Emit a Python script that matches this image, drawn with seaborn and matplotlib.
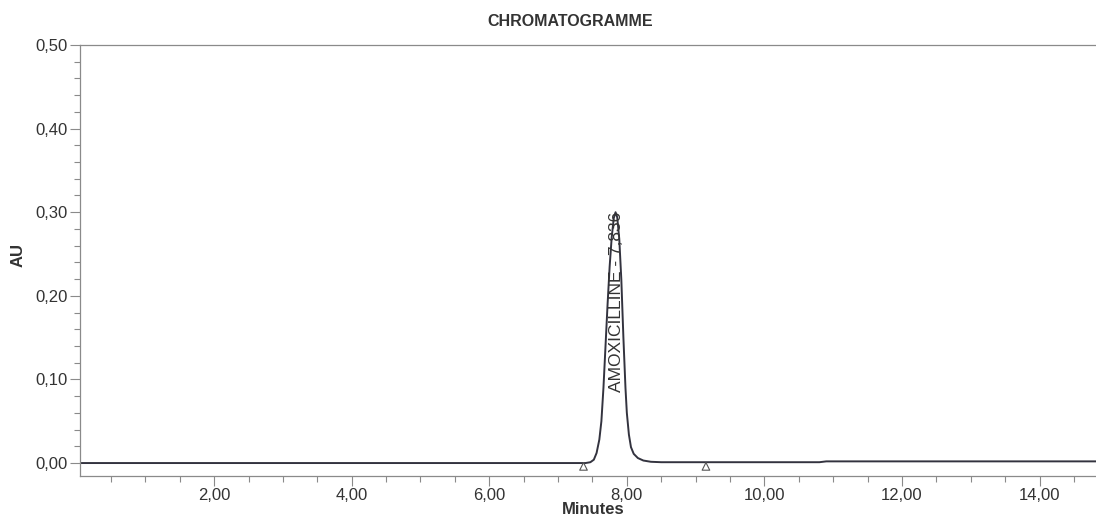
import numpy as np
import pandas as pd
import matplotlib
matplotlib.use("Agg")
import matplotlib.pyplot as plt
from matplotlib.ticker import MultipleLocator, FixedLocator
import seaborn as sns

# trace (minutes, AU)
minutes = [0.05, 2.00, 4.00, 6.00, 7.00, 7.40, 7.47, 7.52, 7.56, 7.60, 7.63, 7.66,
           7.69, 7.72, 7.75, 7.78, 7.81, 7.836, 7.86, 7.89, 7.92, 7.95, 7.98,
           8.00, 8.03, 8.06, 8.10, 8.16, 8.24, 8.35, 8.50, 9.50, 10.80, 10.90,
           12.00, 14.00, 15.00]
au = [0.000, 0.000, 0.000, 0.000, 0.000, 0.000, 0.001, 0.004, 0.012, 0.028, 0.050, 0.090,
      0.140, 0.190, 0.235, 0.270, 0.293, 0.300, 0.294, 0.268, 0.219, 0.150, 0.090,
      0.060, 0.034, 0.019, 0.011, 0.006, 0.003, 0.0015, 0.001, 0.001, 0.001, 0.002,
      0.002, 0.002, 0.002]

# integration markers (peak start / end)
marker_t = [7.37, 9.15]
marker_au = [-0.004, -0.004]

peak_name = "AMOXICILLINE"
peak_rt = 7.836

xticks = [2, 4, 6, 8, 10, 12, 14]
xticklabels = ["2,00", "4,00", "6,00", "8,00", "10,00", "12,00", "14,00"]
yticks = [0.0, 0.1, 0.2, 0.3, 0.4, 0.5]
yticklabels = ["0,00", "0,10", "0,20", "0,30", "0,40", "0,50"]

df = pd.DataFrame({"Minutes": minutes, "AU": au})
marks = pd.DataFrame({"Minutes": marker_t, "AU": marker_au})

sns.set_style("ticks")
plt.rcParams['font.family'] = ['Liberation Sans', 'DejaVu Sans']

fig = plt.figure(figsize=(10.96, 5.27), dpi=100)
ax = fig.add_axes([80 / 1096, 51 / 527, 1 - 80 / 1096 + 0.01, 431 / 527])

line_c = "#33333f"
spine_c = "#8a8a8a"
text_c = "#333333"

sns.lineplot(data=df, x="Minutes", y="AU", ax=ax, color=line_c, lw=1.4)
sns.scatterplot(data=marks, x="Minutes", y="AU", ax=ax, marker="^", s=30,
                facecolor="none", edgecolor="#555555", linewidth=0.8, zorder=3)

ax.text(peak_rt + 0.02, 0.085, f"{peak_name} - {peak_rt:.3f}".replace(".", ","),
        rotation=90, ha="center", va="bottom", fontsize=12.5, color=text_c)

ax.set_xlim(0.05, 14.98)
ax.set_ylim(-0.0155, 0.5)

ax.xaxis.set_major_locator(FixedLocator(xticks))
ax.set_xticklabels(xticklabels)
ax.xaxis.set_minor_locator(MultipleLocator(0.5))
ax.yaxis.set_major_locator(FixedLocator(yticks))
ax.set_yticklabels(yticklabels)
ax.yaxis.set_minor_locator(MultipleLocator(0.02))

ax.tick_params(which="major", length=7, width=0.8, color=spine_c, labelsize=12,
               labelcolor=text_c, pad=2)
ax.tick_params(which="minor", length=4, width=0.8, color=spine_c)

for side in ["left", "top", "bottom"]:
    ax.spines[side].set_visible(True)
    ax.spines[side].set_color(spine_c)
    ax.spines[side].set_linewidth(0.9)
ax.spines["right"].set_visible(False)

ax.set_xlabel("")
ax.set_ylabel("")
fig.text(593 / 1096, 1 - 509 / 527, "Minutes", ha="center", va="center",
         fontsize=12, fontweight="bold", color=text_c)
fig.text(18 / 1096, 1 - 255 / 527, "AU", ha="center", va="center", rotation=90,
         fontsize=12, fontweight="bold", color=text_c)
fig.text(570 / 1096, 1 - 22 / 527, "CHROMATOGRAMME", ha="center", va="center",
         fontsize=11.5, fontweight="bold", color=text_c)

fig.savefig("out.png", dpi=100)
